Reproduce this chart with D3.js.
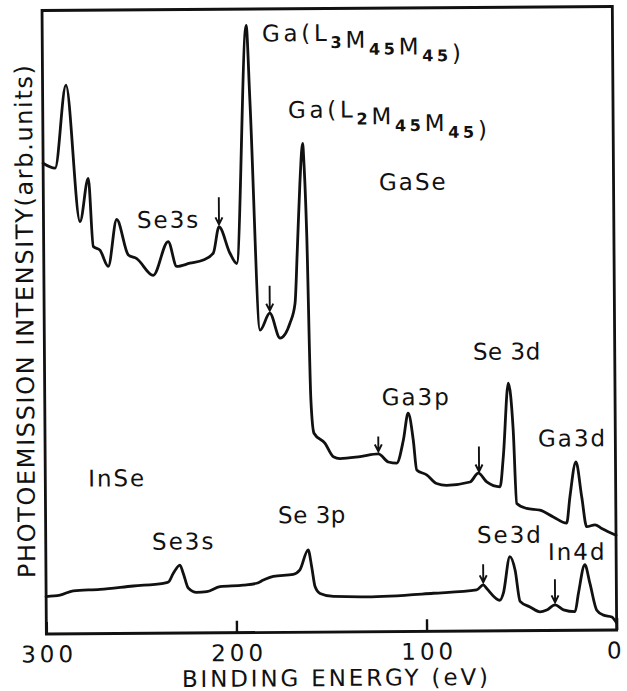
<!DOCTYPE html>
<html>
<head>
<meta charset="utf-8">
<script src="https://cdn.jsdelivr.net/npm/d3@7"></script>
<style>
  html, body { margin: 0; padding: 0; background: #fff; }
  svg { display: block; }
  text { font-family: "DejaVu Sans", sans-serif; fill: #111; }
</style>
</head>
<body>
<svg id="chart" width="627" height="691"></svg>
<script>
// Photoemission survey spectra of GaSe (upper) and InSe (lower)
const energyGaSe = [300, 293.7, 287.7, 280.8, 276.3, 273.9, 270.4, 266.1, 261.5, 255.5,
  251.1, 242.5, 234.5, 230.1, 223.2, 216.1, 210.8, 207.7, 202.1, 198.5,
  192.7, 191.0, 186.5, 181.3, 176.0, 170.7, 168.0, 166.6, 165.0, 163.4,
  162.8, 161.6, 160.0, 158.5, 152.8, 148.4, 144.9, 134.3, 124.7, 119.5,
  115.1, 111.5, 108.9, 106.3, 104.6, 99.4, 94.2, 88.9, 76.6, 72.2,
  67.8, 60.8, 59.0, 56.1, 53.7, 52.1, 46.9, 39.9, 32.9, 25.9,
  24.1, 20.8, 17.9, 15.4, 11.0, 7.5, 0];
const intensityGaSe = [75.5, 74.7, 88.0, 66.1, 73.0, 62.1, 61.5, 58.9, 66.4, 60.7,
  60.1, 57.4, 62.8, 58.8, 59.3, 59.8, 60.9, 65.1, 60.9, 59.2,
  97.4, 85.4, 48.5, 51.2, 47.2, 49.6, 52.7, 61.3, 72.0, 78.4,
  75.3, 64.0, 37.2, 31.9, 30.3, 28.1, 27.8, 28.1, 28.5, 27.2,
  27.0, 30.7, 35.0, 30.7, 25.9, 25.1, 23.7, 23.4, 23.9, 25.3,
  23.9, 23.1, 27.9, 39.7, 32.2, 20.4, 19.6, 19.3, 18.2, 17.2,
  21.4, 27.0, 21.4, 16.6, 16.9, 16.3, 15.2];

const energyInSe = [300, 292.7, 285.7, 271.6, 254.1, 238.3, 235.6, 233.0, 229.5, 227.8,
  225.2, 220.8, 215.5, 208.5, 196.3, 189.2, 185.7, 180.4, 169.9, 166.4,
  162.0, 160.2, 158.5, 155.9, 148.9, 131.4, 96.3, 73.5, 70.0, 68.2,
  61.3, 59.5, 55.9, 53.2, 50.7, 45.5, 40.2, 36.7, 32.3, 27.9,
  21.8, 20.0, 16.5, 13.9, 10.4, 6.9, 2.5, 0];
const intensityInSe = [6.0, 6.2, 6.9, 7.1, 7.6, 8.0, 8.2, 9.6, 10.9, 9.6,
  7.2, 6.5, 6.6, 7.4, 7.6, 7.9, 8.4, 9.0, 9.3, 10.0,
  13.2, 10.5, 7.3, 6.2, 5.7, 5.6, 6.1, 6.6, 7.4, 6.8,
  4.9, 6.0, 11.9, 9.7, 4.7, 3.8, 3.0, 3.3, 4.1, 3.3,
  3.0, 5.9, 10.5, 7.5, 3.2, 2.4, 2.1, 1.1];

const xTickValues = [300, 200, 100, 0];
const xTickLabels = ["300", "200", "100", "0"];

// Energies of the weak features marked with arrows
const arrowEnergiesGaSe = [207.7, 181.3, 124.7, 71.8];
const arrowEnergiesInSe = [70.0, 32.3];

// Peak annotations (text, anchored at binding energy / intensity)
const labelTexts = ["Ga(L_3M_45M_45)", "Ga(L_2M_45M_45)", "GaSe", "Se3s", "Se 3d",
  "Ga3p", "Ga3d", "InSe", "Se 3p", "Se3s", "Se3d", "In4d"];
const labelEnergies = [184.4, 171.0, 123.4, 250.9, 74.6, 122.8, 40.7, 277.5, 177.7, 244.1, 73.2, 35.9];
const labelIntensities = [94.8, 82.5, 70.8, 65.0, 43.5, 36.3, 29.5, 23.6, 17.5, 13.4, 14.1, 11.3];

// ---- layout and styling ----
const frame = { left: 44.2, right: 614.5, top: 8.5, bottom: 632 };
const ink = "#111";
const arrowLengthsGaSe = [27, 25, 15, 25];
const arrowLengthsInSe = [18, 23];

const x = d3.scaleLinear().domain([300, 0]).range([frame.left, frame.right]);
const y = d3.scaleLinear().domain([0, 100]).range([frame.bottom, frame.top]);

const svg = d3.select("#chart");
svg.append("rect").attr("width", 627).attr("height", 691).attr("fill", "#fff");

// the printed figure sits very slightly tilted on the page
const g = svg.append("g").attr("transform", "rotate(-0.4 329 320)");

// plot frame
g.append("rect")
  .attr("x", frame.left).attr("y", frame.top)
  .attr("width", frame.right - frame.left)
  .attr("height", frame.bottom - frame.top)
  .attr("fill", "none").attr("stroke", ink).attr("stroke-width", 2.8);

// bottom axis: inward ticks, large labels
const axis = d3.axisBottom(x)
  .tickValues(xTickValues)
  .tickFormat((d, i) => xTickLabels[i])
  .tickSizeInner(-12).tickSizeOuter(0).tickPadding(12);

const axisG = g.append("g")
  .attr("transform", `translate(0,${frame.bottom})`)
  .call(axis);
axisG.select(".domain").remove();
axisG.selectAll(".tick line").attr("stroke", ink).attr("stroke-width", 2.4);
axisG.selectAll(".tick text")
  .attr("font-family", "DejaVu Sans, sans-serif")
  .attr("font-size", 23)
  .attr("fill", ink)
  .attr("letter-spacing", (d, i) => xTickLabels[i].length > 1 ? 4 : 0)
  .attr("dx", (d, i) => xTickLabels[i].length > 1 ? 2 : -3);

// axis titles
g.append("text")
  .attr("x", 332.4).attr("y", 686)
  .attr("text-anchor", "middle")
  .attr("font-size", 23)
  .attr("textLength", 306)
  .attr("lengthAdjust", "spacing")
  .text("BINDING ENERGY (eV)");

g.append("text")
  .attr("transform", "translate(33.5,319.5) rotate(-90)")
  .attr("text-anchor", "middle")
  .attr("font-size", 24)
  .attr("textLength", 513)
  .attr("lengthAdjust", "spacing")
  .text("PHOTOEMISSION  INTENSITY(arb.units)");

// spectra
const line = d3.line()
  .x(d => x(d[0]))
  .y(d => y(d[1]))
  .curve(d3.curveMonotoneX);

[[energyGaSe, intensityGaSe], [energyInSe, intensityInSe]].forEach(([E, I]) => {
  g.append("path")
    .datum(d3.zip(E, I))
    .attr("d", line)
    .attr("fill", "none")
    .attr("stroke", ink)
    .attr("stroke-width", 2.8)
    .attr("stroke-linejoin", "round")
    .attr("stroke-linecap", "round");
});

// downward arrows pointing at weak features on each spectrum
function drawArrows(energies, lengths, E, I) {
  const along = d3.scaleLinear().domain(E).range(I);
  energies.forEach((e, k) => {
    const px = x(e);
    const tip = y(along(e)) - 2.5;
    const len = lengths[k];
    g.append("path")
      .attr("d", `M${px},${tip - len}V${tip}M${px - 3.5},${tip - 7}L${px},${tip}L${px + 3.5},${tip - 7}`)
      .attr("fill", "none")
      .attr("stroke", ink)
      .attr("stroke-width", 1.9)
      .attr("stroke-linejoin", "miter");
  });
}
drawArrows(arrowEnergiesGaSe, arrowLengthsGaSe, energyGaSe, intensityGaSe);
drawArrows(arrowEnergiesInSe, arrowLengthsInSe, energyInSe, intensityInSe);

// peak labels; "_nn" marks a subscript
labelTexts.forEach((txt, i) => {
  const t = g.append("text")
    .attr("x", x(labelEnergies[i]))
    .attr("y", y(labelIntensities[i]))
    .attr("font-size", 23);
  const parts = txt.split(/_(\d+)/);
  if (parts.length === 1) {
    t.attr("letter-spacing", txt.includes(" ") ? 0.5 : 2).text(txt);
    return;
  }
  t.attr("letter-spacing", 3.7);
  parts.forEach((p, j) => {
    if (!p) return;
    if (j % 2 === 1) {
      t.append("tspan").attr("font-size", 16).attr("font-weight", "bold").attr("dy", 7).text(p);
      t.append("tspan").attr("font-size", 23).attr("dy", -7).text("");
    } else {
      t.append("tspan").text(p);
    }
  });
});
</script>
</body>
</html>
